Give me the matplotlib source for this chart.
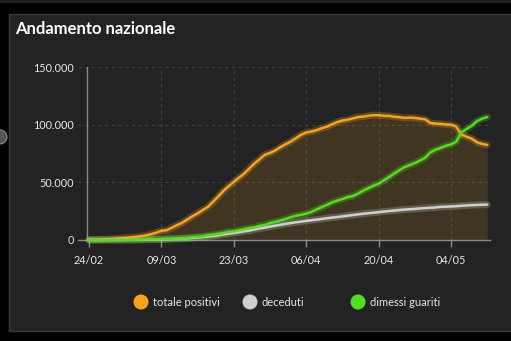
import numpy as np
import pandas as pd
import matplotlib
matplotlib.use("Agg")
import matplotlib.pyplot as plt
import matplotlib.dates as mdates
from matplotlib.patches import Rectangle, Ellipse

# dati nazionali 24/02 - 11/05
giorni = pd.date_range("2020-02-24", "2020-05-11", freq="D")

totale_positivi = [221, 311, 385, 588, 821, 1049, 1577, 1835, 2263, 2706, 3296, 3916, 5061, 6387,
                   7985, 8514, 10590, 12839, 14955, 17750, 20603, 23073, 26062, 28710, 33190, 37860,
                   42681, 46638, 50418, 54030, 57521, 62013, 66414, 70065, 73880, 75528, 77635, 80572,
                   83049, 85388, 88274, 91246, 93187, 94067, 95262, 96877, 98273, 100269, 102253,
                   103616, 104291, 105418, 106607, 106962, 107771, 108257, 108237, 107709, 107699,
                   106848, 106527, 105847, 106103, 105813, 105205, 104657, 101551, 100943, 100704,
                   100179, 99980, 98467, 91528, 89624, 87961, 84842, 83324, 82488]

deceduti = [7, 10, 12, 17, 21, 29, 34, 52, 79, 107, 148, 197, 233, 366, 463, 631, 827, 1016, 1266,
            1441, 1809, 2158, 2503, 2978, 3405, 4032, 4825, 5476, 6077, 6820, 7503, 8165, 9134,
            10023, 10779, 11591, 12428, 13155, 13915, 14681, 15362, 15887, 16523, 17127, 17669,
            18279, 18849, 19468, 19899, 20465, 21067, 21645, 22170, 22745, 23227, 23660, 24114,
            24648, 25085, 25549, 25969, 26384, 26644, 26977, 27359, 27682, 27967, 28236, 28710,
            28884, 29079, 29315, 29684, 29958, 30201, 30395, 30560, 30739]

dimessi_guariti = [1, 1, 3, 45, 46, 50, 83, 149, 160, 276, 414, 523, 589, 622, 724, 1004, 1045,
                   1258, 1439, 1966, 2335, 2749, 2941, 4025, 4440, 5129, 6072, 7024, 7432, 8326,
                   9362, 10361, 10950, 12384, 13030, 14620, 15729, 16847, 18278, 19758, 20996,
                   21815, 22837, 24392, 26491, 28470, 30455, 32534, 34211, 35435, 37130, 38092,
                   40164, 42727, 44927, 47055, 48877, 51600, 54543, 57576, 60498, 63120, 64928,
                   66624, 68941, 71252, 75945, 78249, 79914, 81654, 82879, 85231, 93245, 96276,
                   99023, 103031, 105186, 106587]

tick_date = pd.to_datetime(["2020-02-24", "2020-03-09", "2020-03-23", "2020-04-06",
                            "2020-04-20", "2020-05-04"])
y_ticks = [0, 50000, 100000, 150000]
y_labels = ["0", "50.000", "100.000", "150.000"]

serie = [("totale positivi", totale_positivi, "#f7a41c"),
         ("deceduti", deceduti, "#cfcfcf"),
         ("dimessi guariti", dimessi_guariti, "#52e01c")]

W, H = 511, 341
fig = plt.figure(figsize=(W / 100, H / 100), dpi=100, facecolor="black")


def cerchio(cx, cy, r, **kw):
    # cerchio in pixel della figura (y dall'alto)
    return Ellipse((cx / W, (H - cy) / H), 2 * r / W, 2 * r / H, transform=fig.transFigure, **kw)


# pannello
fig.patches.append(Rectangle((9 / W, (H - 331) / H), 1, (331 - 14) / H, transform=fig.transFigure,
                             facecolor="#232323", edgecolor="#3a3a3a", lw=1, zorder=-2))
fig.patches.append(Rectangle((0, (H - 3) / H), 1, 3 / H, transform=fig.transFigure,
                             facecolor="#1e1e1e", edgecolor="none", zorder=-2))
fig.patches.append(cerchio(0, 137, 7, facecolor="#555555", edgecolor="#888888", lw=0.8, zorder=-1))

fig.text(15 / W, (H - 29) / H, "Andamento nazionale", color="white", fontsize=12,
         fontweight="bold", family="Lato", va="center", ha="left")

ax = fig.add_axes([78 / W, (H - 240) / H, (490 - 78) / W, (240 - 67) / H])
ax.set_zorder(2)
ax.set_facecolor("none")
x = mdates.date2num(giorni)
px_day = 5.171
ax.set_xlim(x[0] - 11 / px_day, x[0] + (490 - 89) / px_day)
ax.set_ylim(0, 150000)

for s in ["top", "right", "left"]:
    ax.spines[s].set_visible(False)
ax.spines["bottom"].set_color("#8a8a8a")
ax.spines["bottom"].set_linewidth(1)
ax.axvline(x[0] - 2.3 / px_day, color="#8a8a8a", lw=1, zorder=1)

ax.set_yticks(y_ticks)
ax.set_yticklabels(y_labels)
ax.set_xticks(mdates.date2num(tick_date))
ax.xaxis.set_major_formatter(mdates.DateFormatter("%d/%m"))
ax.tick_params(axis="y", length=0, pad=3, labelsize=7.8, labelcolor="#e8e8e8")
ax.tick_params(axis="x", length=5, width=1, color="#8a8a8a", pad=6, labelsize=7.8, labelcolor="#e8e8e8")
for lab in ax.get_xticklabels() + ax.get_yticklabels():
    lab.set_family("Lato")

for yv in y_ticks[1:]:
    ax.axhline(yv, color="#404040", lw=0.8, ls=(0, (3, 3)), zorder=0)
for xv in mdates.date2num(tick_date)[1:]:
    ax.axvline(xv, color="#404040", lw=0.8, ls=(0, (3, 3)), zorder=0)

ax.fill_between(x, 0, totale_positivi, color="#f7a41c", alpha=0.14, lw=0, zorder=2)
for nome, val, col in serie:
    ax.plot(x, val, color=col, lw=5, alpha=0.25, solid_capstyle="round", clip_on=False, zorder=3)
    ax.plot(x, val, color=col, lw=1.8, solid_capstyle="round", clip_on=False, zorder=4)

# legenda
leg_x = [141, 250, 358]
for (nome, val, col), lx in zip(serie, leg_x):
    fig.patches.append(cerchio(lx, 302, 7.5, facecolor=col, edgecolor="none", zorder=5))
    fig.text((lx + 12) / W, (H - 302) / H, nome, color="#e8e8e8", fontsize=8,
             family="Lato", va="center", ha="left")

fig.savefig("out.png", dpi=100, facecolor="black")
